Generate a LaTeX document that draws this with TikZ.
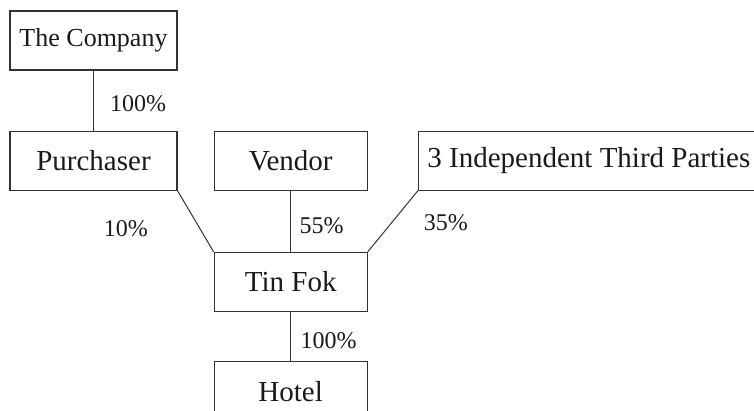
\documentclass[tikz,border=0pt]{standalone}
\usepackage{fontspec}
\setmainfont{Liberation Serif}
\usetikzlibrary{positioning}
\definecolor{linegray}{HTML}{333333}
\definecolor{textgray}{HTML}{1A1A1A}

\begin{document}
\begin{tikzpicture}[
    x=0.5pt, y=-0.5pt,
    node distance=30pt,
    every node/.style={text=textgray},
    box/.style={
        draw=linegray,
        minimum width=76.5pt, minimum height=29.5pt,
        line width=0.6pt,
        inner sep=0pt,
        font=\fontsize{14.5}{17}\selectfont
    },
    link/.style={
        line width=0.5pt,
        color=linegray
    },
    pct/.style={
        font=\fontsize{12}{14}\selectfont,
        inner sep=0pt
    }
]
\useasboundingbox (0,0) rectangle (754,411);

% Nodes
\node[box, minimum width=83.5pt, font=\fontsize{13}{15}\selectfont] (company) at (93.5,40.5) {The Company};

\node[box, minimum width=83.5pt, below=30pt of company] (purchaser) {Purchaser};

\node[box, right=18pt of purchaser] (vendor) {Vendor};

\node[box, right=25pt of vendor, inner xsep=4.5pt] (third)
    {\makebox[190pt][l]{3 Independent Third Parties}};

\node[box, below=30.5pt of vendor] (tinfok) {Tin Fok};

\node[box, below=24.5pt of tinfok] (hotel) {Hotel};

% Links
\draw[link] (company) -- (purchaser)
    node[pct, midway, anchor=west, xshift=8pt, yshift=-1.5pt] {100\%};

\draw[link] (purchaser.south east) -- (tinfok.north west)
    node[pct, midway, xshift=-34.9pt, yshift=-3.5pt] {10\%};

\draw[link] (vendor) -- (tinfok)
    node[pct, midway, anchor=west, xshift=4.25pt, yshift=-2.25pt] {55\%};

\draw[link] (third.south west) -- (tinfok.north east)
    node[pct, midway, xshift=26.5pt, yshift=-0.75pt] {35\%};

\draw[link] (tinfok) -- (hotel)
    node[pct, midway, anchor=west, xshift=4.75pt, yshift=-2.25pt] {100\%};

\end{tikzpicture}
\end{document}
